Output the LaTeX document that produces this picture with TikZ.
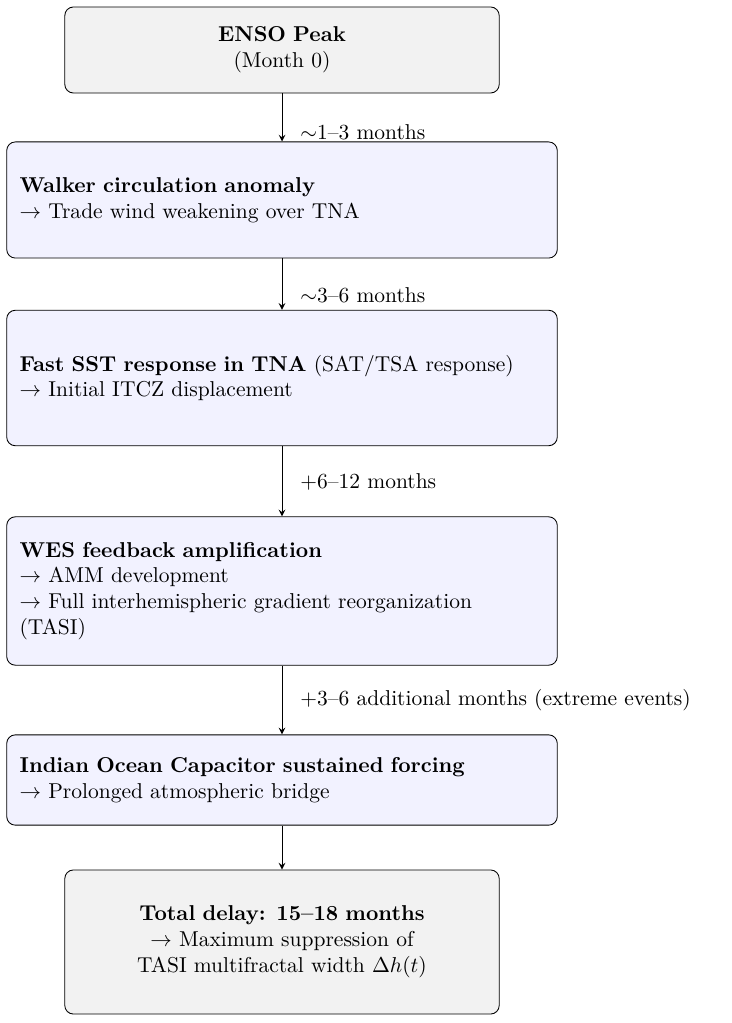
\documentclass[tikz,border=0pt]{standalone}
\usepackage{amsmath}
\begin{document}
\begin{tikzpicture}[x=0.465pt,y=-0.465pt,
 base/.style={draw,rounded corners=4pt,line width=0.4pt,inner sep=6pt},
 stagebox/.style={base,fill=blue!5,text width=244pt,align=left},
 term/.style={base,fill=gray!10,text width=190pt,align=center},
 lab/.style={anchor=west,inner sep=0pt},
 arr/.style={->,>=stealth,line width=0.4pt}]
\useasboundingbox (0,0) rectangle (731,1023);
\node[term,minimum height=40pt] (a) at (282,50) {\textbf{ENSO Peak}\\(Month 0)};
\node[stagebox,minimum height=54pt] (b) at (282,200) {\textbf{Walker circulation anomaly}\\$\rightarrow$ Trade wind weakening over TNA};
\node[stagebox,minimum height=63pt] (c) at (282,378) {\textbf{Fast SST response in TNA} (SAT/TSA re\-sponse)\\$\rightarrow$ Initial ITCZ displacement};
\node[stagebox,minimum height=69pt] (d) at (282,591) {\textbf{WES feedback amplification}\\$\rightarrow$ AMM development\\$\rightarrow$ Full interhemispheric gradient reorganization (TASI)};
\node[stagebox,minimum height=42pt] (e) at (282,780) {\textbf{Indian Ocean Capacitor sustained forcing}\\$\rightarrow$ Prolonged atmospheric bridge};
\node[term,minimum height=67pt] (f) at (282,942) {\textbf{Total delay: 15--18 months}\\$\rightarrow$ Maximum suppression of\\TASI multifractal width $\Delta h(t)$};
\draw[arr] (a) -- (b);
\draw[arr] (b) -- (c);
\draw[arr] (c) -- (d);
\draw[arr] (d) -- (e);
\draw[arr] (e) -- (f);
\node[lab] (l1) at (300,132) {$\sim$1--3 months};
\node[lab] (l2) at (300,295) {$\sim$3--6 months};
\node[lab] (l3) at (300,482) {+6--12 months};
\node[lab] (l4) at (300,700) {+3--6 additional months (extreme events)};
\end{tikzpicture}
\end{document}
